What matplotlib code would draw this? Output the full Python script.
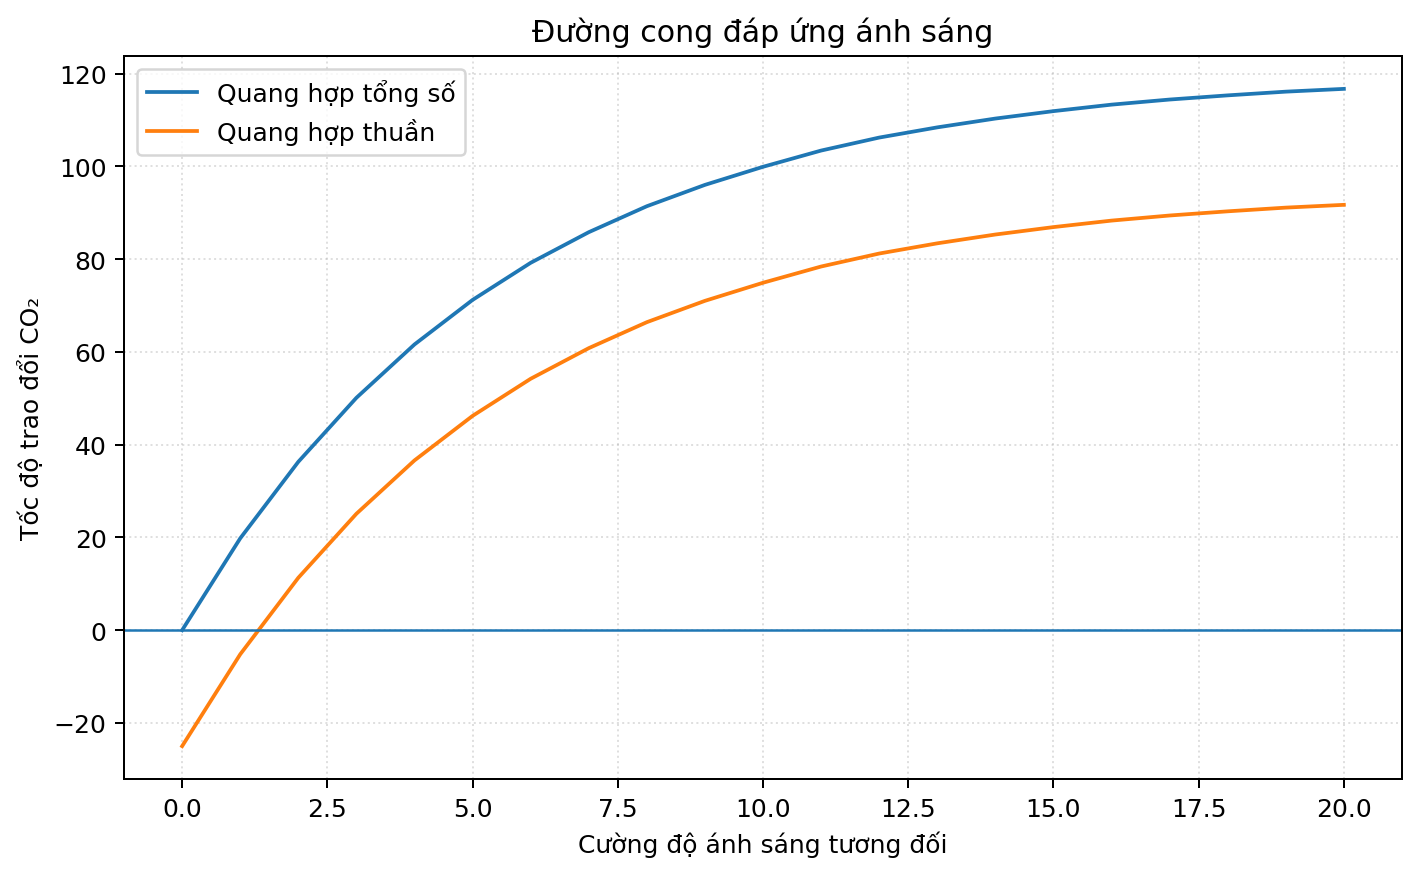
import matplotlib.pyplot as plt

# --- Data ---
cuong_do = list(range(21))
tong_so = [0.0, 19.8, 36.3, 50.1, 61.6, 71.2, 79.2, 85.8, 91.4, 96.0, 99.9,
           103.4, 106.2, 108.4, 110.3, 111.9, 113.3, 114.4, 115.3, 116.1, 116.7]
thuan = [-25.0, -5.2, 11.3, 25.1, 36.6, 46.2, 54.2, 60.8, 66.4, 71.0, 74.9,
         78.4, 81.2, 83.4, 85.3, 86.9, 88.3, 89.4, 90.3, 91.1, 91.7]

fig, ax = plt.subplots(figsize=(1421 / 180, 877 / 180), dpi=180)
fig.subplots_adjust(left=0.0873, right=0.9866, top=0.935, bottom=0.1106)

ax.plot(cuong_do, tong_so, label="Quang hợp tổng số")
ax.plot(cuong_do, thuan, label="Quang hợp thuần")
ax.axhline(0, linewidth=1)

ax.set_title("Đường cong đáp ứng ánh sáng")
ax.set_xlabel("Cường độ ánh sáng tương đối")
ax.set_ylabel("Tốc độ trao đổi CO₂")
ax.grid(True, linestyle=":", alpha=0.4)
ax.legend(loc="upper left")

plt.savefig("out.png")
